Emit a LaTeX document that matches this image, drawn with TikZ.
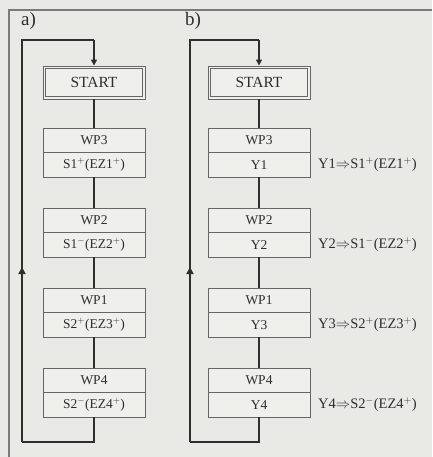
\documentclass[tikz,border=0pt]{standalone}
\usepackage{fontspec}
\setmainfont{Liberation Serif}
\usetikzlibrary{arrows.meta,decorations.markings}
\definecolor{bg}{HTML}{E9E9E6}
\definecolor{boxbg}{HTML}{EFEFEC}
\definecolor{ink}{HTML}{2E2E2E}
\definecolor{frame}{HTML}{7A7A7A}
\definecolor{bord}{HTML}{666666}
\begin{document}
\begin{tikzpicture}[x=1pt,y=-1pt,
  cell/.style={draw=bord,line width=0.9pt,fill=boxbg,minimum width=102pt,minimum height=24.5pt,inner sep=0pt,text=ink,font=\fontsize{13.5}{15}\selectfont},
  startbox/.style={draw=bord,line width=0.9pt,fill=boxbg,minimum width=102pt,minimum height=33pt,inner sep=0pt,text=ink,font=\fontsize{15.5}{17}\selectfont},
  inner/.style={draw=bord,line width=0.9pt},
  conn/.style={draw=ink,line width=1.7pt},
  upmark/.style={postaction={decorate},decoration={markings,mark=at position 0.5 with {\arrow{Triangle[width=7pt,length=7pt]}}}},
  lbl/.style={anchor=west,text=ink,inner sep=0pt,font=\fontsize{14.5}{16}\selectfont},
  head/.style={anchor=north west,text=ink,inner sep=0pt,font=\fontsize{19}{21}\selectfont}]
\useasboundingbox (0,0) rectangle (432,457);
\fill[bg] (0,0) rectangle (432,457);
\draw[frame,line width=1.4pt] (9,457) -- (9,10) -- (432,10);
\node[head] (la) at (21,12) {a)};
\node[head] (lb) at (185,12) {b)};
% panel a
\node[startbox] (sa) at (94,82.5) {START};
\draw[inner] ([shift={(3,3)}]sa.north west) rectangle ([shift={(-3,-3)}]sa.south east);
\node[cell] (a1t) at (94,140.25) {WP3};
\node[cell] (a1b) at (94,164.75) {S1$^{+}$(EZ1$^{+}$)};
\node[cell] (a2t) at (94,220.25) {WP2};
\node[cell] (a2b) at (94,244.75) {S1$^{-}$(EZ2$^{+}$)};
\node[cell] (a3t) at (94,300.25) {WP1};
\node[cell] (a3b) at (94,324.75) {S2$^{+}$(EZ3$^{+}$)};
\node[cell] (a4t) at (94,380.25) {WP4};
\node[cell] (a4b) at (94,404.75) {S2$^{-}$(EZ4$^{+}$)};
\draw[conn] (sa.south) -- (a1t.north);
\draw[conn] (a1b.south) -- (a2t.north);
\draw[conn] (a2b.south) -- (a3t.north);
\draw[conn] (a3b.south) -- (a4t.north);
\coordinate (ab) at (94,442);
\coordinate (abl) at (22,442);
\coordinate (atl) at (22,40);
\coordinate (at) at (94,40);
\draw[conn] (a4b.south) -- (ab) -- (abl);
\draw[conn,upmark] (abl) -- (22,92);
\draw[conn] (22,92) -- (atl) -- (at);
\draw[conn,-{Triangle[width=6pt,length=6pt]}] (at) -- (sa.north);
% panel b
\node[startbox] (sb) at (259,82.5) {START};
\draw[inner] ([shift={(3,3)}]sb.north west) rectangle ([shift={(-3,-3)}]sb.south east);
\node[cell] (b1t) at (259,140.25) {WP3};
\node[cell] (b1b) at (259,164.75) {Y1};
\node[cell] (b2t) at (259,220.25) {WP2};
\node[cell] (b2b) at (259,244.75) {Y2};
\node[cell] (b3t) at (259,300.25) {WP1};
\node[cell] (b3b) at (259,324.75) {Y3};
\node[cell] (b4t) at (259,380.25) {WP4};
\node[cell] (b4b) at (259,404.75) {Y4};
\draw[conn] (sb.south) -- (b1t.north);
\draw[conn] (b1b.south) -- (b2t.north);
\draw[conn] (b2b.south) -- (b3t.north);
\draw[conn] (b3b.south) -- (b4t.north);
\coordinate (bb) at (259,442);
\coordinate (bbl) at (190,442);
\coordinate (btl) at (190,40);
\coordinate (bt) at (259,40);
\draw[conn] (b4b.south) -- (bb) -- (bbl);
\draw[conn,upmark] (bbl) -- (190,92);
\draw[conn] (190,92) -- (btl) -- (bt);
\draw[conn,-{Triangle[width=6pt,length=6pt]}] (bt) -- (sb.north);
\node[lbl] (y1) at (318,164.75) {Y1$\Rightarrow$S1$^{+}$(EZ1$^{+}$)};
\node[lbl] (y2) at (318,244.75) {Y2$\Rightarrow$S1$^{-}$(EZ2$^{+}$)};
\node[lbl] (y3) at (318,324.75) {Y3$\Rightarrow$S2$^{+}$(EZ3$^{+}$)};
\node[lbl] (y4) at (318,404.75) {Y4$\Rightarrow$S2$^{-}$(EZ4$^{+}$)};
\end{tikzpicture}
\end{document}
